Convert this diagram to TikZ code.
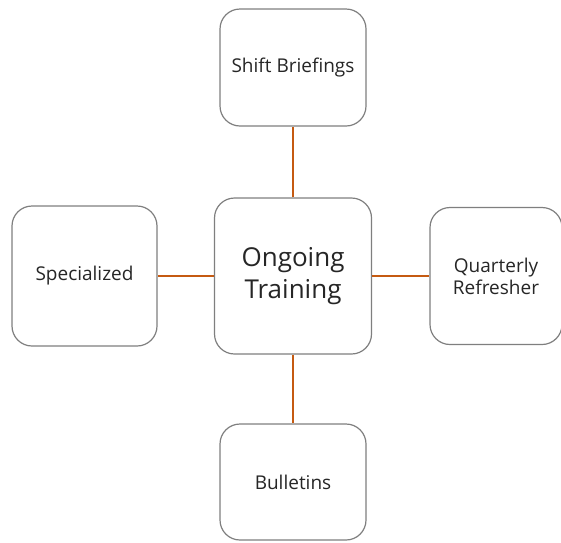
\documentclass[tikz,border=0pt]{standalone}
\usepackage{fontspec}
\setmainfont{Open Sans}
\definecolor{boxline}{HTML}{7F7F7F}
\definecolor{link}{HTML}{C55A11}
\definecolor{txt}{HTML}{262626}
\begin{document}
\begin{tikzpicture}[x=1pt,y=-1pt,
  card/.style={draw=boxline, line width=1.2pt, rounded corners=20pt, fill=white,
    align=center, text=txt, inner sep=0pt, font=\fontsize{19}{22}\selectfont},
  hub/.style={card, font=\fontsize{26}{32}\selectfont},
  link/.style={draw=link, line width=2.4pt}]
\useasboundingbox (0,0) rectangle (561,542);
\node[hub, minimum width=157pt, minimum height=156pt] (c) at (293,276) {Ongoing\\Training};
\node[card, minimum width=146pt, minimum height=117pt] (t) at (293,67.5) {Shift Briefings};
\node[card, minimum width=145pt, minimum height=140pt] (l) at (84.5,276) {Specialized};
\node[card, minimum width=132pt, minimum height=137pt] (r) at (496,276) {Quarterly\\Refresher};
\node[card, minimum width=146pt, minimum height=116pt] (b) at (293,482) {Bulletins};
\draw[link] (c.north) -- (t.south);
\draw[link] (c.south) -- (b.north);
\draw[link] (c.west) -- (l.east);
\draw[link] (c.east) -- (r.west);
\end{tikzpicture}
\end{document}
